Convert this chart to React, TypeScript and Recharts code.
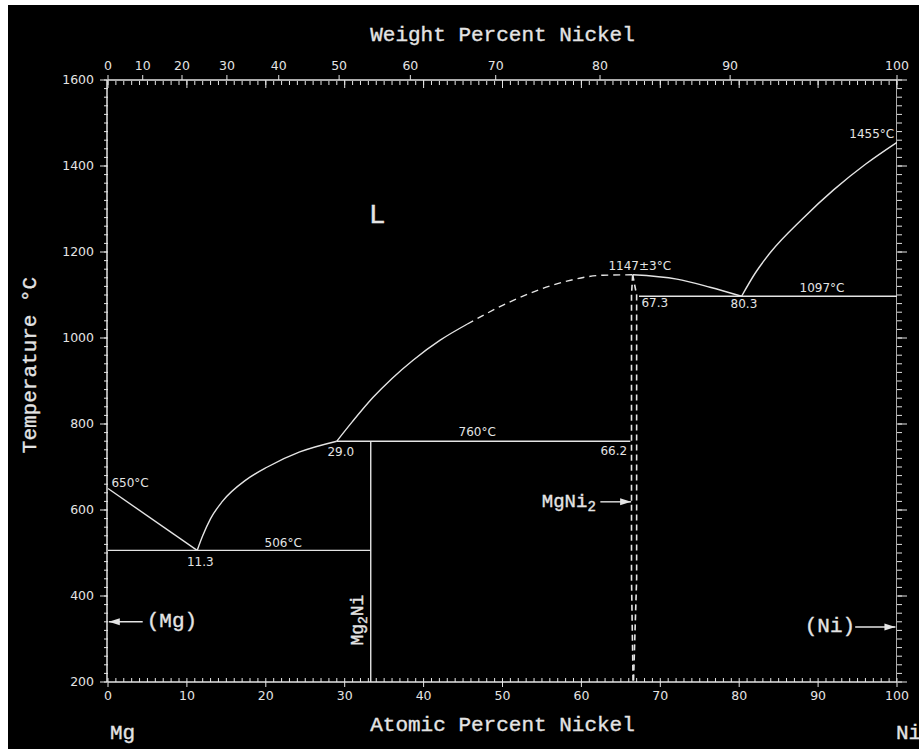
import React from 'react';
import { ComposedChart, Line, XAxis, YAxis, ReferenceDot } from 'recharts';

const INK = '#e4e4e4';
const TITLE_FONT = '"Liberation Mono", "DejaVu Sans Mono", monospace';
const NUM_FONT = '"DejaVu Sans", sans-serif';

// axes
const atomicTicks = [0, 10, 20, 30, 40, 50, 60, 70, 80, 90, 100];
const tempTicks = [200, 400, 600, 800, 1000, 1200, 1400, 1600];
const weightLabels = ['0', '10', '20', '30', '40', '50', '60', '70', '80', '90', '100'];
// where each weight-percent value sits on the atomic-percent scale
const weightAtAtomic = [0, 4.4, 9.38, 15.07, 21.64, 29.29, 38.32, 49.14, 62.36, 78.85, 100];
const atomicMinor = Array.from({ length: 101 }, (_, i) => i);
const tempMinor = Array.from({ length: 71 }, (_, i) => 200 + i * 20);

type Pt = { x: number; t: number };

// liquidus curves (at.% Ni, °C)
const mgLiquidus: Pt[] = [{ x: 0, t: 650 }, { x: 11.3, t: 506 }];
const mg2niLiquidus: Pt[] = [
  { x: 11.3, t: 506 }, { x: 12.0, t: 540 }, { x: 13.0, t: 580 }, { x: 14.5, t: 620 },
  { x: 17.5, t: 670 }, { x: 20.2, t: 700 }, { x: 24.3, t: 735 }, { x: 29.0, t: 760 },
];
const mgni2Liquidus: Pt[] = [
  { x: 29.0, t: 760 }, { x: 31.0, t: 806 }, { x: 33.6, t: 862 }, { x: 36.0, t: 906 },
  { x: 38.7, t: 949 }, { x: 42.1, t: 995 }, { x: 45.5, t: 1032 },
];
const mgni2LiquidusDashed: Pt[] = [
  { x: 45.5, t: 1032 }, { x: 51.3, t: 1087 }, { x: 57.7, t: 1130 },
  { x: 62.7, t: 1146 }, { x: 66.5, t: 1147 },
];
const mgni2NiSide: Pt[] = [
  { x: 66.5, t: 1147 }, { x: 72.1, t: 1137 }, { x: 76.3, t: 1118 }, { x: 80.3, t: 1097 },
];
const niLiquidus: Pt[] = [
  { x: 80.3, t: 1097 }, { x: 82.0, t: 1150 }, { x: 84.0, t: 1200 }, { x: 88.0, t: 1277 },
  { x: 92.0, t: 1345 }, { x: 96.0, t: 1404 }, { x: 100, t: 1455 },
];

// invariant lines and phase boundaries
const eutecticMg: Pt[] = [{ x: 0, t: 506 }, { x: 33.3, t: 506 }];
const mg2niLine: Pt[] = [{ x: 33.3, t: 200 }, { x: 33.3, t: 760 }];
const peritectic: Pt[] = [{ x: 29.0, t: 760 }, { x: 66.2, t: 760 }];
const eutecticNi: Pt[] = [{ x: 67.3, t: 1097 }, { x: 100, t: 1097 }];
const mgni2Left: Pt[] = [{ x: 66.5, t: 1147 }, { x: 66.35, t: 1100 }, { x: 66.35, t: 440 }, { x: 66.55, t: 200 }];
const mgni2Right: Pt[] = [{ x: 66.5, t: 1147 }, { x: 67.0, t: 1100 }, { x: 67.0, t: 440 }, { x: 66.6, t: 200 }];
const rightEdge: Pt[] = [{ x: 100, t: 200 }, { x: 100, t: 1600 }];

// pointer arrows
const arrowMg: Pt[] = [{ x: 4.4, t: 340 }, { x: 0.1, t: 340 }];
const arrowNi: Pt[] = [{ x: 94.7, t: 328 }, { x: 99.8, t: 328 }];
const arrowMgNi2: Pt[] = [{ x: 62.4, t: 619 }, { x: 66.3, t: 619 }];

// annotations (text centre, data coords)
const notes = [
  { x: 2.8, t: 663, text: '650°C' },
  { x: 11.7, t: 479, text: '11.3' },
  { x: 22.2, t: 523, text: '506°C' },
  { x: 29.5, t: 735, text: '29.0' },
  { x: 46.8, t: 781, text: '760°C' },
  { x: 64.1, t: 737, text: '66.2' },
  { x: 67.4, t: 1167, text: '1147±3°C' },
  { x: 69.3, t: 1081, text: '67.3' },
  { x: 80.6, t: 1079, text: '80.3' },
  { x: 90.5, t: 1116, text: '1097°C' },
  { x: 96.8, t: 1474, text: '1455°C' },
];
const phases = [
  { x: 34.1, t: 1286, text: 'L', size: 28 },
  { x: 8.1, t: 340, text: '(Mg)', size: 21 },
  { x: 91.5, t: 328, text: '(Ni)', size: 21 },
];

const arrowHead = (dir: number) => (p: any) => {
  if (p.index !== 1) return <g key={`a${p.index}`} />;
  const { cx, cy } = p;
  return (
    <polygon key={`a${p.index}`} fill={INK}
      points={`${cx},${cy} ${cx - dir * 11},${cy - 3.5} ${cx - dir * 11},${cy + 3.5}`} />
  );
};

const seg = (data: Pt[], key: string, extra: any = {}) => (
  <Line key={key} data={data} dataKey="t" xAxisId="a" yAxisId="t" type="monotoneX"
    stroke={INK} strokeWidth={1.4} dot={false} activeDot={false}
    isAnimationActive={false} legendType="none" {...extra} />
);

const titleText = { fill: INK, fontFamily: TITLE_FONT, fontSize: 21, stroke: INK, strokeWidth: 0.35 };
const minorLine = { stroke: INK, strokeWidth: 1 };
const noLabel = () => <g />;

export default function App() {
  return (
    <div style={{ position: 'absolute', left: 8, top: 5, width: 911, height: 744, background: '#000' }}>
      <ComposedChart width={911} height={744} margin={{ top: 45, right: 20, bottom: 37, left: 39 }}>
        {/* minor-tick axes first so they sit against the plot frame */}
        <XAxis xAxisId="am" dataKey="x" type="number" domain={[0, 100]} ticks={atomicMinor} interval={0} allowDataOverflow
          height={1} mirror tickSize={4} tick={noLabel} axisLine={false} tickLine={minorLine} />
        <XAxis xAxisId="tm" dataKey="x" orientation="top" type="number" domain={[0, 100]} ticks={atomicMinor} interval={0}
          allowDataOverflow height={1} mirror tickSize={4} tick={noLabel} axisLine={false} tickLine={minorLine} />
        <XAxis xAxisId="tM" dataKey="x" orientation="top" type="number" domain={[0, 100]} ticks={atomicTicks} interval={0}
          allowDataOverflow height={1} mirror tickSize={8} tick={noLabel} axisLine={false} tickLine={minorLine} />
        <YAxis yAxisId="lm" type="number" domain={[200, 1600]} ticks={tempMinor} interval={0} allowDataOverflow
          width={1} tickSize={4} tick={noLabel} axisLine={false} tickLine={minorLine} />
        <YAxis yAxisId="r" orientation="right" type="number" domain={[200, 1600]} ticks={tempMinor} interval={0}
          allowDataOverflow width={1} tickSize={5} tick={noLabel} axisLine={false} tickLine={minorLine} />
        <YAxis yAxisId="rM" orientation="right" type="number" domain={[200, 1600]} ticks={tempTicks} interval={0}
          allowDataOverflow width={1} tickSize={9} tick={noLabel} axisLine={false} tickLine={minorLine} />

        <XAxis xAxisId="a" dataKey="x" type="number" domain={[0, 100]} ticks={atomicTicks} interval={0}
          allowDataOverflow height={30} tickSize={5} tickMargin={4}
          axisLine={{ stroke: INK, strokeWidth: 1.5 }} tickLine={{ stroke: INK }}
          tick={{ fill: INK, fontSize: 12.5, fontFamily: NUM_FONT }}
          label={{
            content: ({ viewBox }: any) => {
              const vb = viewBox ?? { x: 100, y: 677, width: 789, height: 30 };
              const y = vb.y + 43;
              return (
                <g {...titleText}>
                  <text x={vb.x + 2} y={y + 8} dominantBaseline="central">Mg</text>
                  <text x={vb.x + vb.width / 2} y={y} textAnchor="middle" dominantBaseline="central">Atomic Percent Nickel</text>
                  <text x={vb.x + vb.width - 1} y={y + 8} dominantBaseline="central">Ni</text>
                </g>
              );
            },
          }} />
        <XAxis xAxisId="w" dataKey="x" orientation="top" type="number" domain={[0, 100]} ticks={weightAtAtomic} interval={0}
          allowDataOverflow height={30} tickSize={5} tickMargin={5}
          tickFormatter={(_v: number, i: number) => weightLabels[i]}
          axisLine={{ stroke: INK, strokeWidth: 1.5 }} tickLine={{ stroke: INK }}
          tick={{ fill: INK, fontSize: 12.5, fontFamily: NUM_FONT }}
          label={{
            content: ({ viewBox }: any) => {
              const vb = viewBox ?? { x: 100, y: 45, width: 789, height: 30 };
              return (
                <text x={vb.x + vb.width / 2} y={vb.y - 15} textAnchor="middle" dominantBaseline="central"
                  {...titleText}>Weight Percent Nickel</text>
              );
            },
          }} />
        <YAxis yAxisId="t" type="number" domain={[200, 1600]} ticks={tempTicks} interval={0} allowDataOverflow
          width={60} tickSize={7} tickMargin={6}
          axisLine={{ stroke: INK, strokeWidth: 1.5 }} tickLine={{ stroke: INK }}
          tick={{ fill: INK, fontSize: 12.5, fontFamily: NUM_FONT }}
          label={{
            content: ({ viewBox }: any) => {
              const vb = viewBox ?? { x: 40, y: 75, width: 60, height: 602 };
              const x = vb.x - 17;
              const y = vb.y + vb.height / 2 - 16;
              return (
                <text x={x} y={y} transform={`rotate(-90, ${x}, ${y})`} textAnchor="middle" dominantBaseline="central"
                  {...titleText}>Temperature °C</text>
              );
            },
          }} />

        {/* each axis carries at least one series so its scale is built; domains are identical */}
        {seg(mgLiquidus, 'mgLiq', { type: 'linear' })}
        {seg(mg2niLiquidus, 'mg2niLiq', { xAxisId: 'am', yAxisId: 'lm' })}
        {seg(mgni2Liquidus, 'mgni2Liq', { xAxisId: 'w', yAxisId: 'r' })}
        {seg(mgni2LiquidusDashed, 'mgni2LiqD', { xAxisId: 'tm', yAxisId: 'rM', strokeDasharray: '7 5' })}
        {seg(mgni2NiSide, 'mgni2Ni', { xAxisId: 'tM' })}
        {seg(niLiquidus, 'niLiq')}
        {seg(eutecticMg, 'eutMg', { type: 'linear' })}
        {seg(mg2niLine, 'mg2ni', { type: 'linear' })}
        {seg(peritectic, 'peri', { type: 'linear' })}
        {seg(eutecticNi, 'eutNi', { type: 'linear' })}
        {seg(mgni2Left, 'mgni2L', { type: 'linear', strokeDasharray: '6 4', strokeWidth: 1.6 })}
        {seg(mgni2Right, 'mgni2R', { type: 'linear', strokeDasharray: '6 4', strokeWidth: 1.6 })}
        {seg(arrowMg, 'arMg', { type: 'linear', dot: arrowHead(-1) })}
        {seg(arrowNi, 'arNi', { type: 'linear', dot: arrowHead(1) })}
        {seg(arrowMgNi2, 'arMgNi2', { type: 'linear', dot: arrowHead(1) })}
        {seg(rightEdge, 'frameR', { type: 'linear', strokeWidth: 1.5 })}

        {notes.map((n) => (
          <ReferenceDot key={n.text} x={n.x} y={n.t} r={0} xAxisId="a" yAxisId="t" ifOverflow="visible"
            label={{
              content: ({ viewBox }: any) => (
                <text x={viewBox.x} y={viewBox.y} textAnchor="middle" dominantBaseline="central"
                  fill={INK} fontFamily={NUM_FONT} fontSize={12}>{n.text}</text>
              ),
            }} />
        ))}
        {phases.map((n) => (
          <ReferenceDot key={n.text} x={n.x} y={n.t} r={0} xAxisId="a" yAxisId="t" ifOverflow="visible"
            label={{
              content: ({ viewBox }: any) => (
                <text x={viewBox.x} y={viewBox.y} textAnchor="middle" dominantBaseline="central"
                  {...titleText} fontSize={n.size}>{n.text}</text>
              ),
            }} />
        ))}
        <ReferenceDot x={58.4} y={619} r={0} xAxisId="a" yAxisId="t" ifOverflow="visible"
          label={{
            content: ({ viewBox }: any) => (
              <text x={viewBox.x} y={viewBox.y} textAnchor="middle" dominantBaseline="central"
                {...titleText} fontSize={19}>
                MgNi<tspan fontSize={14} dy={5}>2</tspan>
              </text>
            ),
          }} />
        <ReferenceDot x={31.7} y={344} r={0} xAxisId="a" yAxisId="t" ifOverflow="visible"
          label={{
            content: ({ viewBox }: any) => (
              <text x={viewBox.x} y={viewBox.y} transform={`rotate(-90, ${viewBox.x}, ${viewBox.y})`}
                textAnchor="middle" dominantBaseline="central"
                {...titleText} fontSize={18}>
                Mg<tspan fontSize={13} dy={5}>2</tspan><tspan dy={-5}>Ni</tspan>
              </text>
            ),
          }} />
      </ComposedChart>
    </div>
  );
}
